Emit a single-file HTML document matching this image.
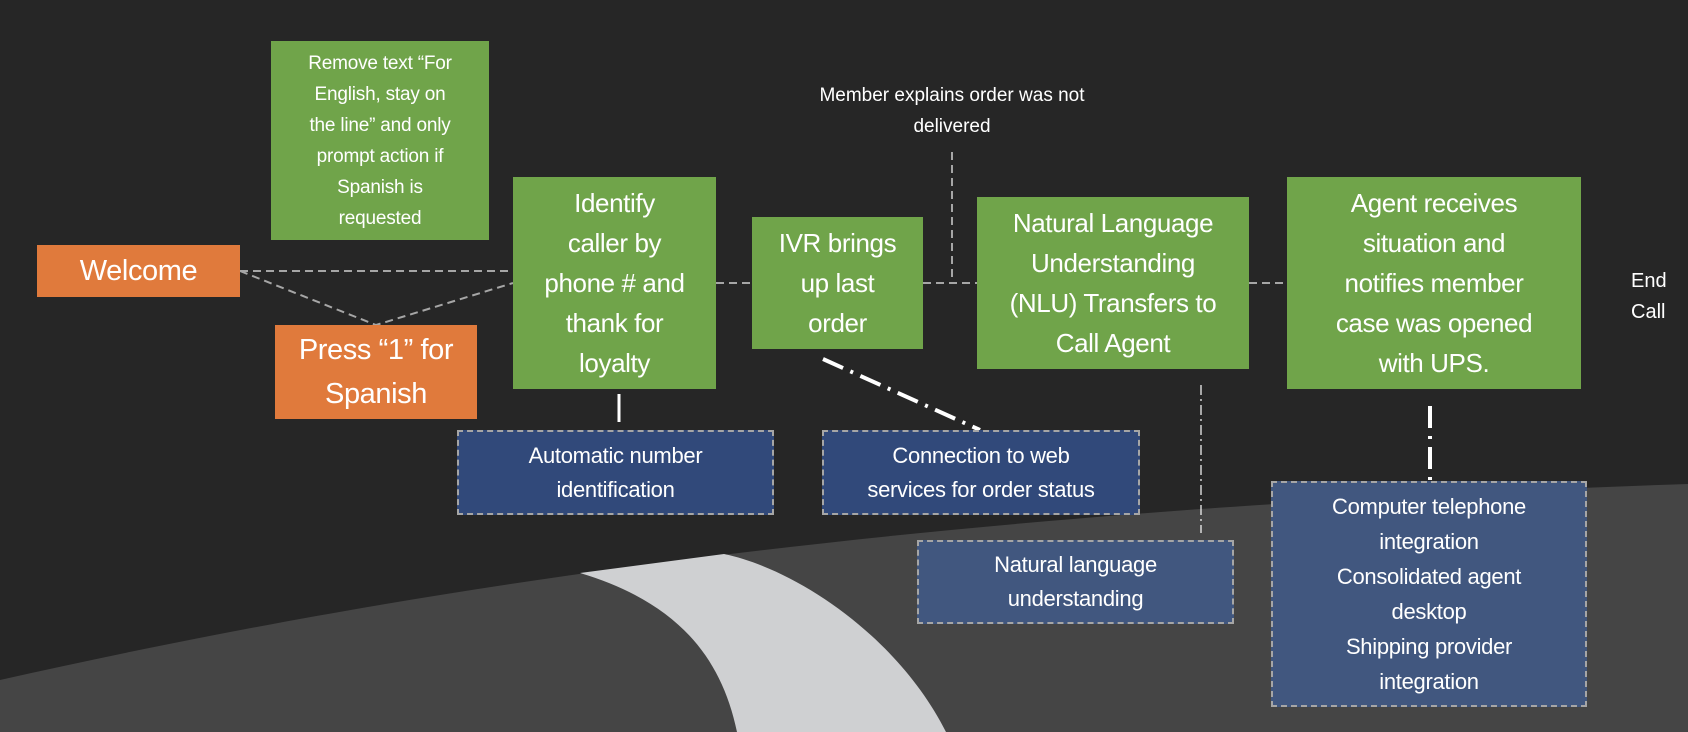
<!DOCTYPE html>
<html><head><meta charset="utf-8"><style>
body{margin:0;width:1688px;height:732px;background:#262626;overflow:hidden;position:relative;font-family:"Liberation Sans",sans-serif;}
.b{position:absolute;display:flex;align-items:center;justify-content:center;text-align:center;color:#fff;box-sizing:border-box;white-space:nowrap;}
.g{background:#70a44a;font-size:26px;line-height:40px;letter-spacing:-0.4px}
.o{background:#e07a3c;font-size:29px;line-height:44px;letter-spacing:-0.4px}
.u{background:#31497a;border:2px dashed #a6a6a6;font-size:22px;line-height:34px;letter-spacing:-0.3px}
.u2{background:#41577f}
svg{position:absolute;left:0;top:0}
</style></head><body>
<svg width="1688" height="732">
<path d="M0,680 C400,590 900,510 1688,484 L1688,732 L0,732Z" fill="#454545"/>
<path d="M580,573 L724,554 C800,570 900,640 946,732 L737,732 C720,650 670,600 580,573Z" fill="#cfd0d2"/>
<g stroke="#a6a6a6" stroke-width="2" stroke-dasharray="8,5" fill="none">
<path d="M240,271 L513,271"/>
<path d="M240,271 L376,325 L513,283"/>
<path d="M716,283 L752,283"/>
<path d="M923,283 L977,283"/>
<path d="M952,152 L952,283"/>
<path d="M1249,283 L1287,283"/>
</g>
<path d="M619,394 L619,422" stroke="#fff" stroke-width="3"/>
<path d="M823,359 L980,430" stroke="#fff" stroke-width="4" stroke-dasharray="22,8,3,8"/>
<path d="M1201,385 L1201,533" stroke="#fff" stroke-width="1.2" stroke-dasharray="10,4,2,4"/>
<path d="M1430,406 L1430,481" stroke="#fff" stroke-width="4" stroke-dasharray="22,8,3,8"/>
</svg>
<div class="b g" style="left:271px;top:41px;width:218px;height:199px;font-size:19px;line-height:31px;letter-spacing:-0.2px">Remove text “For<br>English, stay on<br>the line” and only<br>prompt action if<br>Spanish is<br>requested</div>
<div class="b o" style="left:37px;top:245px;width:203px;height:52px">Welcome</div>
<div class="b o" style="left:275px;top:325px;width:202px;height:94px">Press “1” for<br>Spanish</div>
<div class="b g" style="left:513px;top:177px;width:203px;height:212px">Identify<br>caller by<br>phone # and<br>thank for<br>loyalty</div>
<div class="b g" style="left:752px;top:217px;width:171px;height:132px">IVR brings<br>up last<br>order</div>
<div class="b g" style="left:977px;top:197px;width:272px;height:172px">Natural Language<br>Understanding<br>(NLU) Transfers to<br>Call Agent</div>
<div class="b g" style="left:1287px;top:177px;width:294px;height:212px">Agent receives<br>situation and<br>notifies member<br>case was opened<br>with UPS.</div>
<div class="b" style="left:770px;top:80px;width:364px;font-size:19px;line-height:31px">Member explains order was not<br>delivered</div>
<div class="b" style="left:1631px;top:266px;width:50px;font-size:20px;line-height:31px;text-align:left;justify-content:flex-start">End<br>Call</div>
<div class="b u" style="left:457px;top:430px;width:317px;height:85px">Automatic number<br>identification</div>
<div class="b u" style="left:822px;top:430px;width:318px;height:85px">Connection to web<br>services for order status</div>
<div class="b u u2" style="left:917px;top:540px;width:317px;height:84px">Natural language<br>understanding</div>
<div class="b u u2" style="left:1271px;top:481px;width:316px;height:226px;line-height:35px">Computer telephone<br>integration<br>Consolidated agent<br>desktop<br>Shipping provider<br>integration</div>
</body></html>
